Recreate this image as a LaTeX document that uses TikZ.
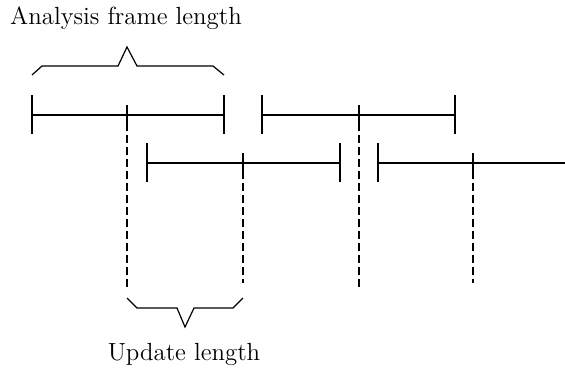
\documentclass[tikz,border=0pt]{standalone}
\begin{document}
\begin{tikzpicture}[x=0.5pt,y=-0.5pt,
  seg/.style={line width=0.7pt, line cap=butt},
  guide/.style={line width=0.7pt, dash pattern=on 4pt off 2pt},
  brace/.style={line width=0.6pt, line join=miter},
  lbl/.style={inner sep=0pt, font=\fontsize{12.4}{15}\selectfont}]
\useasboundingbox (0,0) rectangle (565,370);

% frames: left end, mid tick, right end on two rows
\foreach \l/\m/\r/\y/\n in {32/127/224/115/a, 262/359/455/115/b, 147/243/340/163/c} {
  \coordinate (\n L) at (\l,\y);
  \coordinate (\n M) at (\m,\y);
  \coordinate (\n R) at (\r,\y);
  \draw[seg] (\n L) -- (\n R);
  \draw[seg] ([yshift=10]\n L) -- ([yshift=-9.5]\n L);
  \draw[seg] ([yshift=10]\n R) -- ([yshift=-9.5]\n R);
  \draw[seg] ([yshift=5]\n M) -- ([yshift=-4]\n M);
}
% last frame runs off the right edge
\coordinate (dL) at (378,163);
\coordinate (dM) at (473,163);
\coordinate (dR) at (565,163);
\draw[seg] (dL) -- (dR);
\draw[seg] ([yshift=10]dL) -- ([yshift=-9.5]dL);
\draw[seg] ([yshift=5]dM) -- ([yshift=-4]dM);

% dashed guides from the frame centres
\coordinate (aE) at (127,289);
\coordinate (bE) at (359,289);
\coordinate (cE) at (243,283);
\coordinate (dE) at (473,283);
\draw[guide] ([yshift=-4]aM) -- (aE);
\draw[guide] ([yshift=-4]bM) -- (bE);
\draw[guide] ([yshift=-4]cM) -- (cE);
\draw[guide] ([yshift=-4]dM) -- (dE);

% braces
\draw[brace] (32,75) -- (42,66) -- (118,66) -- (127,47) -- (137,66) -- (213,66) -- (224,75);
\draw[brace] (127,298) -- (137,308) -- (177,308) -- (185,327) -- (194,308) -- (233,308) -- (243,298);

\node[lbl] (top) at (126,18) {Analysis frame length};
\node[lbl] (bot) at (184,354) {Update length};
\end{tikzpicture}
\end{document}
